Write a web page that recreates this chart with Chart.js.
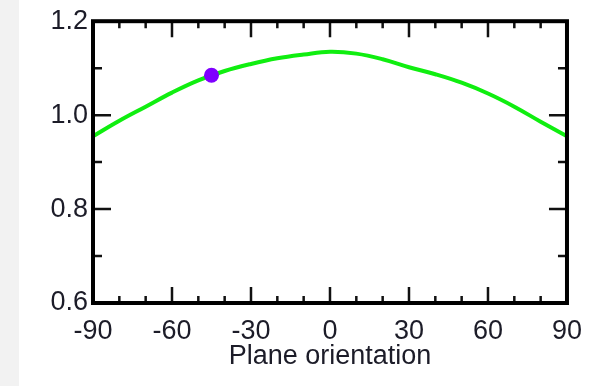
<!DOCTYPE html>
<html lang="en">
<head>
    <meta charset="UTF-8">
    <title>Plane orientation</title>
    <style>
        html, body { margin: 0; padding: 0; }
        body { background: linear-gradient(to right, #f2f2f2 0, #f2f2f2 19px, #ffffff 19px); }
        .wrap { width: 594px; height: 386px; position: relative; }
    </style>
</head>
<body>
    <div class="wrap">
        <canvas id="chart"></canvas>
    </div>

    <script src="https://cdn.jsdelivr.net/npm/chart.js"></script>
    <script>
        // angle (deg) and ratio
        const angles = [-90, -80, -70, -60, -50, -40, -30, -20, -10, 0, 10, 20, 30, 40, 50, 60, 70, 80, 90];
        const ratios = [0.955, 0.988, 1.018, 1.048, 1.074, 1.094, 1.109, 1.121, 1.129, 1.135, 1.131, 1.119, 1.102, 1.087, 1.069, 1.046, 1.018, 0.986, 0.955];
        const markerAngle = [-45];
        const markerRatio = [1.085];

        const xMajor = [-90, -60, -30, 0, 30, 60, 90];
        const xMinor = [-80, -70, -50, -40, -20, -10, 10, 20, 40, 50, 70, 80];
        const yMajor = [0.6, 0.8, 1.0, 1.2];
        const yMinor = [0.7, 0.9, 1.1];

        const textColor = '#1c1c28';
        const font = { family: "'Liberation Sans', Arial, sans-serif", size: 27 };

        // frame and inward ticks on all four sides
        const framePlugin = {
            id: 'frame',
            afterDraw(chart) {
                const { ctx, chartArea: a, scales: { x, y } } = chart;
                ctx.save();
                ctx.strokeStyle = '#111';
                ctx.lineWidth = 2.5;
                const tickX = (vals, len) => {
                    vals.forEach(v => {
                        const px = x.getPixelForValue(v);
                        ctx.beginPath();
                        ctx.moveTo(px, a.bottom); ctx.lineTo(px, a.bottom - len);
                        ctx.moveTo(px, a.top); ctx.lineTo(px, a.top + len);
                        ctx.stroke();
                    });
                };
                const tickY = (vals, len) => {
                    vals.forEach(v => {
                        const py = y.getPixelForValue(v);
                        ctx.beginPath();
                        ctx.moveTo(a.left, py); ctx.lineTo(a.left + len, py);
                        ctx.moveTo(a.right, py); ctx.lineTo(a.right - len, py);
                        ctx.stroke();
                    });
                };
                tickX(xMajor, 16);
                tickX(xMinor, 7);
                tickY(yMajor, 18);
                tickY(yMinor, 9);
                ctx.lineWidth = 4;
                ctx.strokeStyle = '#000';
                ctx.strokeRect(a.left, a.top, a.right - a.left, a.bottom - a.top);
                ctx.restore();
            }
        };

        const ctx = document.getElementById('chart').getContext('2d');
        new Chart(ctx, {
            type: 'line',
            data: {
                datasets: [
                    {
                        data: markerAngle.map((a, i) => ({ x: a, y: markerRatio[i] })),
                        showLine: false,
                        pointRadius: 7.5,
                        pointBackgroundColor: '#7f00ff',
                        pointBorderWidth: 0,
                        order: 0
                    },
                    {
                        data: angles.map((a, i) => ({ x: a, y: ratios[i] })),
                        borderColor: '#10ee10',
                        borderWidth: 4,
                        pointRadius: 0,
                        tension: 0.4,
                        fill: false,
                        order: 1
                    }
                ]
            },
            options: {
                responsive: true,
                maintainAspectRatio: false,
                animation: false,
                events: [],
                layout: { padding: { top: 13, right: 27, left: 0, bottom: 0 } },
                plugins: {
                    legend: { display: false },
                    tooltip: { enabled: false }
                },
                scales: {
                    x: {
                        type: 'linear',
                        min: -90,
                        max: 90,
                        afterFit(scale) { scale.height = 83; },
                        afterBuildTicks(scale) { scale.ticks = xMajor.map(v => ({ value: v })); },
                        grid: { display: false, drawTicks: false },
                        border: { display: false },
                        ticks: { font, color: textColor, padding: 12, maxRotation: 0, autoSkip: false },
                        title: {
                            display: true,
                            text: 'Plane orientation',
                            font,
                            color: textColor,
                            padding: { top: 13, bottom: 13 }
                        }
                    },
                    y: {
                        min: 0.6,
                        max: 1.2,
                        afterFit(scale) { scale.width = 93; },
                        afterBuildTicks(scale) { scale.ticks = yMajor.map(v => ({ value: v })); },
                        grid: { display: false, drawTicks: false },
                        border: { display: false },
                        ticks: {
                            font,
                            color: textColor,
                            padding: 5,
                            callback: v => Number(v).toFixed(1)
                        }
                    }
                }
            },
            plugins: [framePlugin]
        });
    </script>
</body>
</html>
